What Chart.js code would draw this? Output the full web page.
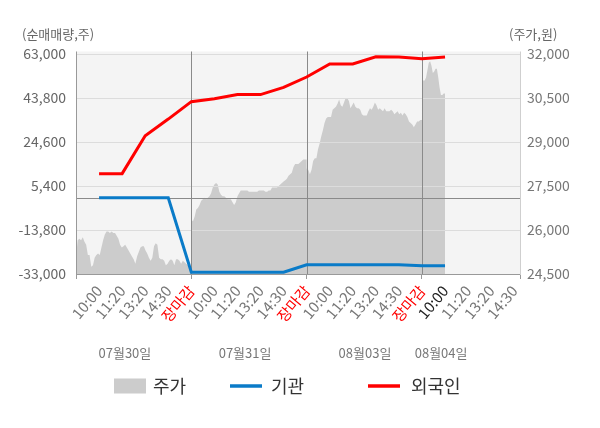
<!DOCTYPE html>
<html>
<head>
<meta charset="utf-8">
<script src="https://cdn.jsdelivr.net/npm/chart.js@4.4.1/dist/chart.umd.min.js"></script>
<style>
  html, body { margin: 0; padding: 0; background: #ffffff; }
  #wrap { width: 600px; height: 428px; position: relative; }
</style>
</head>
<body>
<div id="wrap"><canvas id="c" width="600" height="428"></canvas></div>
<script>
// ---------- DATA ----------
const categoryLabels = ['10:00','11:20','13:20','14:30','장마감',
                        '10:00','11:20','13:20','14:30','장마감',
                        '10:00','11:20','13:20','14:30','장마감',
                        '10:00','11:20','13:20','14:30'];
const dayLabels = ['07월30일','07월31일','08월03일','08월04일'];
const leftTicks  = [-33000, -13800, 5400, 24600, 43800, 63000];
const rightTicks = [24500, 26000, 27500, 29000, 30500, 32000];
const seriesNames = ['주가', '기관', '외국인'];

// net buying (shares) at each label slot
const foreignNet = [10800, 10800, 27350, 34600, 42200,
                    43500, 45300, 45300, 48400, 52950,
                    58650, 58650, 61800, 61700, 60950,
                    61700];
const instNet    = [300, 300, 300, 300, -32200,
                    -32200, -32200, -32200, -32200, -28950,
                    -28950, -28950, -28950, -28950, -29400,
                    -29400];

// intraday price (won), sampled evenly through each session
const priceDay1 = [25100,25650,25700,25650,25750,25600,25500,25150,25150,24750,
                   24800,25050,25150,25200,25150,25400,25650,25850,25950,25950,
                   25900,25950,25900,25900,25800,25700,25500,25400,25450,25500,
                   25400,25300,25200,25100,25000,24850,25100,25250,25400,25450,
                   25450,25300,25200,25050,24950,25050,25450,25550,25500,25050,
                   25000,25000,24950,24800,24850,24950,25000,24950,24800,25000,
                   25000,24950,24850,24950,24900,24850,24800,24700,24550];
const priceDay2 = [26350,26300,26450,26700,26750,26850,27000,27050,27100,27050,
                   27100,27150,27250,27450,27550,27600,27550,27300,27200,27150,
                   27150,27100,27050,27050,27050,26950,26850,26950,27150,27250,
                   27350,27350,27350,27350,27350,27300,27300,27300,27300,27300,
                   27300,27350,27350,27350,27350,27300,27300,27350,27350,27450,
                   27450,27450,27450,27500,27550,27600,27650,27700,27750,27850,
                   27900,27950,28150,28250,28250,28250,28300,28350,28400,28400,
                   28400];
const priceDay3 = [28100,28050,27900,28050,28350,28450,28450,28750,28950,29200,
                   29400,29650,29800,29850,29850,29850,30100,30150,30200,30300,
                   30450,30250,30200,30350,30500,30500,30400,30150,30250,30350,
                   30200,30150,30150,30100,29950,29900,29900,29900,30050,30150,
                   30100,30200,30350,30250,30100,30150,30100,30050,30150,30050,
                   30050,30050,30100,30050,29950,30000,30050,29950,30000,29900,
                   30000,29950,29850,29700,29650,29600,29500,29600,29700,29700,
                   29750,29750];
const priceDay4 = [31100,31100,31100,31200,31450,31700,31750,31600,31350,31400,
                   31500,31500,31200,30850,30600,30600,30650,30650];
const priceDays = [priceDay1, priceDay2, priceDay3, priceDay4];
const slotsPerDay = 5;          // label slots per session (10:00 ... 장마감)
const lastSessionEnd = 15;      // data of the last session runs up to the 10:00 slot

// ---------- LAYOUT / STYLE ----------
const FONT = "'Noto Sans CJK KR', 'Noto Sans', sans-serif";
const separatorSlots = [4, 9, 14];
const datePos = [1.12, 6.33, 11.53, 14.83];
const COLORS = { price: '#cccccc', inst: '#0a7bc8', foreign: '#ff0000' };

// build x/y points from the arrays
const pricePoints = [];
priceDays.forEach((arr, d) => {
  const start = d * slotsPerDay - 1;
  const end = (d === priceDays.length - 1) ? lastSessionEnd : start + slotsPerDay;
  arr.forEach((v, j) => {
    pricePoints.push({ x: start + (end - start) * j / (arr.length - 1), y: v });
  });
});
const foreignPoints = foreignNet.map((v, i) => ({ x: i, y: v }));
const instPoints = instNet.map((v, i) => ({ x: i, y: v }));

const overlayPlugin = {
  id: 'overlay',
  beforeDraw(chart) {
    const { ctx, chartArea: a } = chart;
    ctx.save();
    ctx.fillStyle = '#f4f4f4';
    ctx.fillRect(a.left, a.top - 2.5, a.right - a.left, a.bottom - a.top + 2.5);
    ctx.restore();
  },
  afterDatasetDraw(chart, args) {
    if (args.meta.label !== seriesNames[0]) return;
    const { ctx, chartArea: a, scales } = chart;
    const y = scales.y, x = scales.x;
    ctx.save();
    ctx.lineWidth = 1;
    // horizontal grid
    ctx.strokeStyle = '#dcdcdc';
    leftTicks.forEach(v => {
      if (v === leftTicks[0]) return;
      const py = Math.round(y.getPixelForValue(v)) + 0.5;
      ctx.beginPath(); ctx.moveTo(a.left, py); ctx.lineTo(a.right, py); ctx.stroke();
    });
    // zero line
    ctx.strokeStyle = '#8a8a8a';
    const zy = Math.round(y.getPixelForValue(0)) + 0.5;
    ctx.beginPath(); ctx.moveTo(a.left, zy); ctx.lineTo(a.right, zy); ctx.stroke();
    // session separators
    separatorSlots.forEach(s => {
      const px = Math.round(x.getPixelForValue(s)) + 0.5;
      ctx.beginPath(); ctx.moveTo(px, a.top - 2.5); ctx.lineTo(px, a.bottom); ctx.stroke();
    });
    // borders
    ctx.strokeStyle = '#999999';
    ctx.beginPath(); ctx.moveTo(Math.round(a.left) + 0.5, a.top - 2.5); ctx.lineTo(Math.round(a.left) + 0.5, a.bottom); ctx.stroke();
    ctx.beginPath(); ctx.moveTo(a.left, Math.round(a.bottom) + 0.5); ctx.lineTo(a.right, Math.round(a.bottom) + 0.5); ctx.stroke();
    ctx.strokeStyle = '#cfcfcf';
    ctx.beginPath(); ctx.moveTo(Math.round(a.right) + 0.5, a.top - 2.5); ctx.lineTo(Math.round(a.right) + 0.5, a.bottom); ctx.stroke();
    ctx.restore();
  },
  afterDraw(chart) {
    const { ctx, scales } = chart;
    ctx.save();
    // axis titles
    ctx.fillStyle = '#666';
    ctx.font = '13px ' + FONT;
    ctx.textBaseline = 'middle';
    ctx.textAlign = 'left';
    ctx.fillText('(순매매량,주)', 22, 34);
    ctx.fillText('(주가,원)', 509, 34);
    // date labels
    ctx.fillStyle = '#777';
    ctx.textAlign = 'center';
    dayLabels.forEach((t, i) => {
      ctx.fillText(t, scales.x.getPixelForValue(datePos[i]), 353);
    });
    // legend
    const ly = 386;
    ctx.font = '18px ' + FONT;
    ctx.textAlign = 'left';
    ctx.fillStyle = COLORS.price;
    ctx.fillRect(114, ly - 7.5, 32, 15);
    ctx.fillStyle = '#333';
    ctx.fillText(seriesNames[0], 153, ly);
    ctx.lineWidth = 3.5;
    ctx.strokeStyle = COLORS.inst;
    ctx.beginPath(); ctx.moveTo(230, ly); ctx.lineTo(262, ly); ctx.stroke();
    ctx.fillText(seriesNames[1], 271, ly);
    ctx.strokeStyle = COLORS.foreign;
    ctx.beginPath(); ctx.moveTo(368, ly); ctx.lineTo(400, ly); ctx.stroke();
    ctx.fillText(seriesNames[2], 411, ly);
    ctx.restore();
  }
};

const tickSet = [-1, ...categoryLabels.map((_, i) => i), 18.25];

new Chart(document.getElementById('c'), {
  type: 'line',
  data: {
    datasets: [
      { label: seriesNames[2], data: foreignPoints, yAxisID: 'y', borderColor: COLORS.foreign,
        borderWidth: 3, pointRadius: 0, fill: false, tension: 0, order: 1 },
      { label: seriesNames[1], data: instPoints, yAxisID: 'y', borderColor: COLORS.inst,
        borderWidth: 3, pointRadius: 0, fill: false, tension: 0, order: 2 },
      { label: seriesNames[0], data: pricePoints, yAxisID: 'y1', borderColor: COLORS.price,
        backgroundColor: COLORS.price, borderWidth: 0, pointRadius: 0, fill: 'start', tension: 0, order: 3 }
    ]
  },
  options: {
    responsive: false,
    animation: false,
    layout: { padding: { top: 54, left: 0, right: 0, bottom: 0 } },
    plugins: { legend: { display: false }, tooltip: { enabled: false } },
    scales: {
      x: {
        type: 'linear', min: -1, max: 18.25,
        afterBuildTicks: s => { s.ticks = tickSet.map(v => ({ value: v })); },
        afterFit: s => { s.height = 154; },
        ticks: {
          autoSkip: false, maxRotation: 50, minRotation: 50, padding: 3,
          font: { family: FONT, size: 15 },
          callback: v => (Number.isInteger(v) && v >= 0 && v < categoryLabels.length) ? categoryLabels[v] : '',
          color: c => {
            const v = c.tick ? c.tick.value : -1;
            if (Number.isInteger(v) && categoryLabels[v] === '장마감') return '#ff0000';
            if (v === lastSessionEnd) return '#222222';
            return '#777777';
          }
        },
        grid: {
          color: 'rgba(0,0,0,0)',
          tickLength: 5,
          tickColor: c => {
            const v = c.tick ? c.tick.value : 0;
            return (v === -1 || v === 18.25 || separatorSlots.includes(v)) ? '#999999' : 'rgba(0,0,0,0)';
          }
        },
        border: { color: '#999999' }
      },
      y: {
        position: 'left', min: -33000, max: 63000,
        afterBuildTicks: s => { s.ticks = leftTicks.map(v => ({ value: v })); },
        afterFit: s => { s.width = 76; },
        ticks: { color: '#666', padding: 10, font: { family: FONT, size: 14 },
                 callback: v => v.toLocaleString('en-US') },
        grid: { color: '#dcdcdc', drawTicks: false },
        border: { color: '#999999' }
      },
      y1: {
        position: 'right', min: 24500, max: 32000,
        afterBuildTicks: s => { s.ticks = rightTicks.map(v => ({ value: v })); },
        afterFit: s => { s.width = 80; },
        ticks: { color: '#777', padding: 7, font: { family: FONT, size: 14 },
                 callback: v => v.toLocaleString('en-US') },
        grid: { drawOnChartArea: false, drawTicks: false },
        border: { color: '#cfcfcf' }
      }
    }
  },
  plugins: [overlayPlugin]
});
</script>
</body>
</html>
